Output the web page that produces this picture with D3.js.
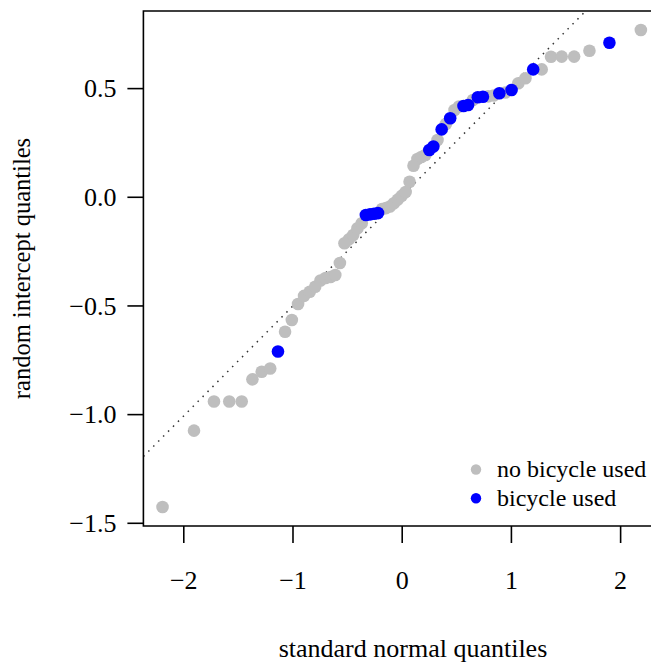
<!DOCTYPE html>
<html><head><meta charset="utf-8">
<script src="https://cdn.jsdelivr.net/npm/d3@7"></script>
<style>
body{margin:0;background:#fff}
svg{display:block}
text{font-family:"Liberation Serif","Times New Roman",serif;fill:#000}
</style>
</head><body><svg id="c" width="651" height="666"></svg>
<script>
// theoretical standard normal quantiles (x) for the 69 random intercepts
const theoreticalQuantiles = [
 -2.190,-1.902,-1.719,-1.579,-1.465,-1.367,-1.282,-1.204,-1.133,-1.068,
 -1.006,-0.949,-0.894,-0.842,-0.792,-0.744,-0.697,-0.652,-0.608,-0.566,
 -0.524,-0.484,-0.444,-0.405,-0.366,-0.328,-0.290,-0.253,-0.217,-0.180,
 -0.144,-0.108,-0.072,-0.036, 0.000, 0.036, 0.072, 0.108, 0.144, 0.180,
  0.217, 0.253, 0.290, 0.328, 0.366, 0.405, 0.444, 0.484, 0.524, 0.566,
  0.608, 0.652, 0.697, 0.744, 0.792, 0.842, 0.894, 0.949, 1.006, 1.068,
  1.133, 1.204, 1.282, 1.367, 1.465, 1.579, 1.719, 1.902, 2.190];
// sorted random intercepts (y)
const sampleQuantiles = [
 -1.427,-1.076,-0.942,-0.942,-0.942,-0.840,-0.805,-0.790,-0.712,-0.621,
 -0.567,-0.493,-0.456,-0.437,-0.414,-0.385,-0.374,-0.369,-0.360,-0.305,
 -0.214,-0.196,-0.176,-0.145,-0.122,-0.084,-0.081,-0.078,-0.075,-0.056,
 -0.052,-0.045,-0.030,-0.013, 0.004, 0.022, 0.069, 0.143, 0.174, 0.183,
  0.192, 0.215, 0.231, 0.261, 0.310, 0.335, 0.361, 0.399, 0.415, 0.418,
  0.422, 0.445, 0.458, 0.460, 0.462, 0.466, 0.476, 0.480, 0.491, 0.522,
  0.545, 0.586, 0.586, 0.644, 0.645, 0.645, 0.672, 0.709, 0.767];
// 1 = bicycle used
const bicycleUsed = [
 0,0,0,0,0,0,0,0,1,0,
 0,0,0,0,0,0,0,0,0,0,
 0,0,0,0,0,1,1,1,1,0,
 0,0,0,0,0,0,0,0,0,0,
 0,1,1,0,1,0,1,0,0,1,
 1,0,1,1,0,0,1,0,1,0,
 0,1,0,0,0,0,0,1,0];
const xTicks = [-2,-1,0,1,2];
const xTickLabels = ["\u22122","\u22121","0","1","2"];
const yTicks = [-1.5,-1.0,-0.5,0.0,0.5];
const yTickLabels = ["\u22121.5","\u22121.0","\u22120.5","0.0","0.5"];
const legendLabels = ["no bicycle used","bicycle used"];
const legendColors = ["#bebebe","#0000ff"];
const qqLine = {intercept:0.002, slope:0.506};

const svg = d3.select("#c");
const L=143.4, R=660.0, T=11, B=526;
const xe=d3.extent(theoreticalQuantiles), ye=d3.extent(sampleQuantiles);
const xp=0.04*(xe[1]-xe[0]), yp=0.04*(ye[1]-ye[0]);
const x=d3.scaleLinear().domain([xe[0]-xp,xe[1]+xp]).range([L,R]);
const y=d3.scaleLinear().domain([ye[0]-yp,ye[1]+yp]).range([B,T]);

svg.append("clipPath").attr("id","clip").append("rect")
  .attr("x",L).attr("y",T).attr("width",R-L).attr("height",B-T);

// qq line
const xd=x.domain();
svg.append("line").attr("clip-path","url(#clip)")
  .attr("x1",x(xd[0])).attr("y1",y(qqLine.intercept+qqLine.slope*xd[0]))
  .attr("x2",x(xd[1])).attr("y2",y(qqLine.intercept+qqLine.slope*xd[1]))
  .attr("stroke","#333").attr("stroke-width",1.5)
  .attr("stroke-dasharray","1.5,5.5");

const pts=theoreticalQuantiles.map((q,i)=>({q,v:sampleQuantiles[i],b:bicycleUsed[i]}));
const order=pts.filter(d=>!d.b).concat(pts.filter(d=>d.b));
svg.append("g").selectAll("circle").data(order).join("circle")
  .attr("cx",d=>x(d.q)).attr("cy",d=>y(d.v)).attr("r",6.3)
  .attr("fill",d=>legendColors[d.b]);

// box
svg.append("path").attr("d",`M${R+5},${T}H${L}V${B}H${R+5}`)
  .attr("fill","none").attr("stroke","#000").attr("stroke-width",1.6);

// axes
const fmtX=d=>xTickLabels[xTicks.indexOf(d)];
const fmtY=d=>yTickLabels[yTicks.indexOf(d)];
const gx=svg.append("g").attr("transform",`translate(0,${B})`)
  .call(d3.axisBottom(x).tickValues(xTicks).tickFormat(fmtX).tickSize(17).tickPadding(28));
const gy=svg.append("g").attr("transform",`translate(${L},0)`)
  .call(d3.axisLeft(y).tickValues(yTicks).tickFormat(fmtY).tickSize(16).tickPadding(11));
[gx,gy].forEach(g=>{
  g.select(".domain").remove();
  g.selectAll("line").attr("stroke","#000").attr("stroke-width",1.6);
  g.selectAll("text").attr("font-size",26).attr("font-family","Liberation Serif").attr("fill","#000");
});
gy.selectAll("text").attr("dy","0.34em");

svg.append("text").attr("x",413).attr("y",657).attr("text-anchor","middle")
  .attr("font-size",26).text("standard normal quantiles");
svg.append("text").attr("transform",`translate(22,${(T+B)/2}) rotate(-90)`)
  .attr("text-anchor","middle").attr("dy","0.34em")
  .attr("font-size",24.5).text("random intercept quantiles");

// legend
const lg=svg.append("g");
legendLabels.forEach((t,i)=>{
  lg.append("circle").attr("cx",476).attr("cy",469.5+i*28.8).attr("r",5.2).attr("fill",legendColors[i]);
  lg.append("text").attr("x",497).attr("y",469.5+i*28.8).attr("dy","0.32em")
    .attr("font-size",24).text(t);
});
</script></body></html>
